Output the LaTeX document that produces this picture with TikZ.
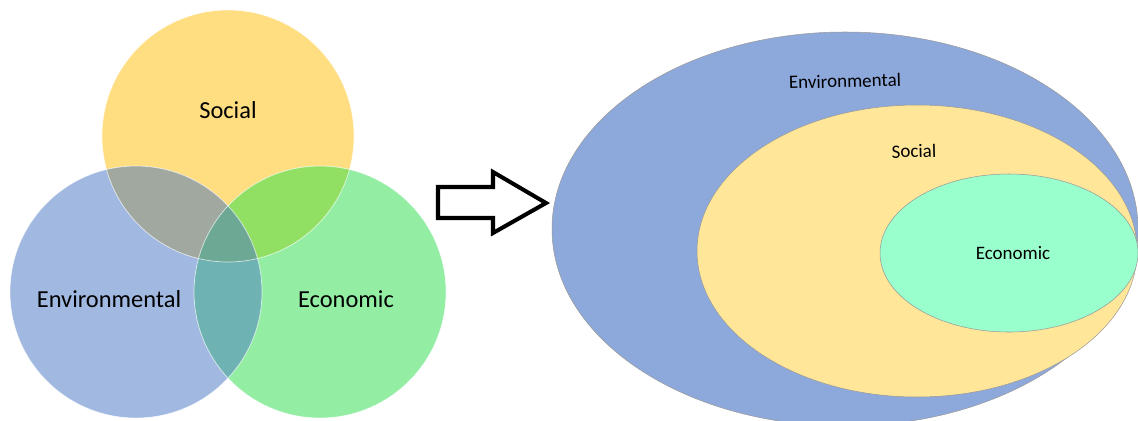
\documentclass[tikz,border=0pt]{standalone}
\usepackage{fontspec}
\setmainfont{Carlito}
\definecolor{socYel}{RGB}{255,222,130}
\definecolor{envBlu}{RGB}{161,184,224}
\definecolor{ecoGrn}{RGB}{147,238,164}
\definecolor{socEnv}{RGB}{161,168,160}
\definecolor{socEco}{RGB}{145,224,100}
\definecolor{envEco}{RGB}{110,178,180}
\definecolor{allThree}{RGB}{108,168,148}
\definecolor{outBlu}{RGB}{141,169,219}
\definecolor{midYel}{RGB}{255,230,153}
\definecolor{inGrn}{RGB}{153,255,204}
\begin{document}
\begin{tikzpicture}[x=0.02cm, y=-0.02cm, line width=0.4pt,
    vennlbl/.style={font=\fontsize{13.9}{16}\selectfont, inner sep=0pt},
    nestlbl/.style={font=\fontsize{10.8}{13}\selectfont, inner sep=0pt},
    rim/.style={draw=white, draw opacity=0.7, line width=0.4pt},
    nestrim/.style={draw=black!40, line width=0.3pt}]
  \clip (0,0) rectangle (1138,420);
  \coordinate (cS) at (228,136);
  \coordinate (cV) at (136,292);
  \coordinate (cE) at (320,292);
  % three circles, overlaps filled region by region
  \fill[socYel] (cS) circle[radius=126];
  \fill[envBlu] (cV) circle[radius=126];
  \fill[ecoGrn] (cE) circle[radius=126];
  \begin{scope}
    \clip (cS) circle[radius=126];
    \fill[socEnv] (cV) circle[radius=126];
    \fill[socEco] (cE) circle[radius=126];
  \end{scope}
  \begin{scope}
    \clip (cV) circle[radius=126];
    \fill[envEco] (cE) circle[radius=126];
    \clip (cS) circle[radius=126];
    \fill[allThree] (cE) circle[radius=126];
  \end{scope}
  \draw[rim] (cS) circle[radius=126];
  \draw[rim] (cV) circle[radius=126];
  \draw[rim] (cE) circle[radius=126];
  \node[vennlbl] (vS) at (228,110) {Social};
  \node[vennlbl] (vV) at (109,299) {Environmental};
  \node[vennlbl] (vE) at (346,299) {Economic};
  % block arrow
  \draw[line width=2.3pt, fill=white, miter limit=20]
    (438,187) -- (493,187) -- (493,172) -- (546,203) -- (493,233) -- (493,218) -- (438,218) -- cycle;
  % nested ellipses
  \filldraw[fill=outBlu, nestrim] (845,229) ellipse[x radius=293, y radius=197];
  \filldraw[fill=midYel, nestrim] (917,251) ellipse[x radius=220, y radius=146];
  \filldraw[fill=inGrn, nestrim] (1009,253) ellipse[x radius=129, y radius=79];
  \node[nestlbl, rotate=1.5] (nV) at (845,81) {Environmental};
  \node[nestlbl, rotate=1.5] (nS) at (914,151) {Social};
  \node[nestlbl] (nE) at (1013,253) {Economic};
\end{tikzpicture}
\end{document}
